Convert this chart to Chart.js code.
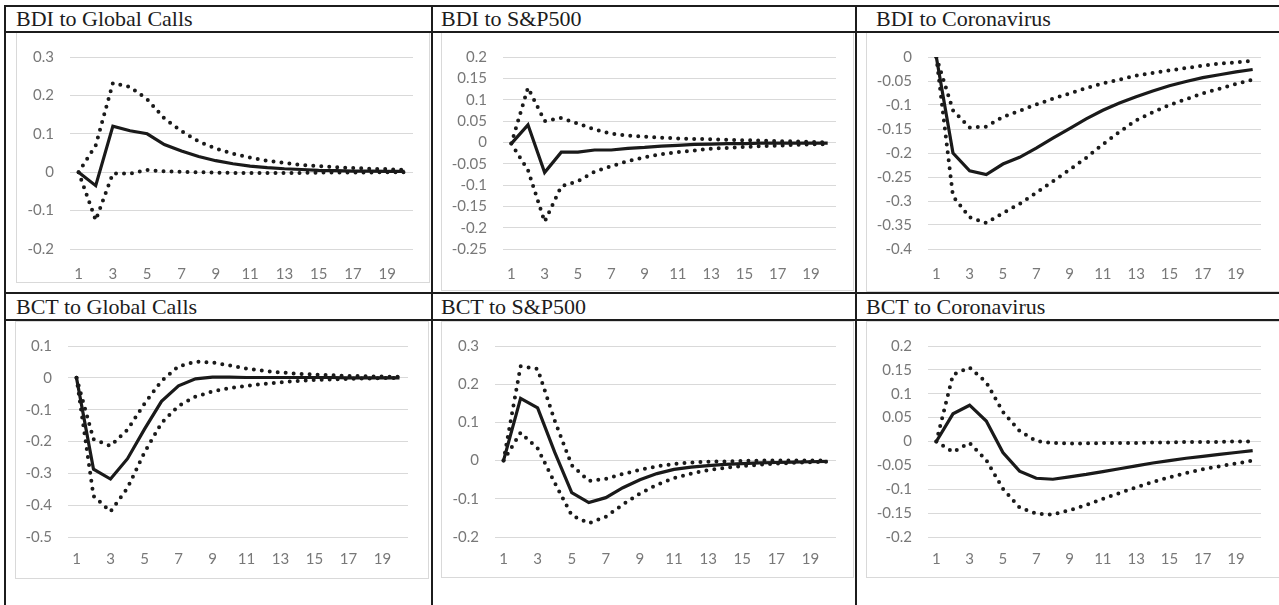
<!DOCTYPE html>
<html>
<head>
<meta charset="utf-8">
<script src="https://cdn.jsdelivr.net/npm/chart.js@4.4.1/dist/chart.umd.min.js"></script>
<style>
	body { margin: 0; width: 1279px; height: 605px; overflow: hidden; background: #fff; position: relative; }
	.rule { position: absolute; background: #1c1c1c; }
	.title { position: absolute; font: 22px 'Liberation Serif', 'Times New Roman', serif; color: #1c1c1c; white-space: nowrap; line-height: 1; }
	.box { position: absolute; border: 1px solid #d9d9d9; box-sizing: border-box; }
	canvas { position: absolute; }
</style>
</head>
<body>
<script>
// horizon 1..20
const periods = ['1', '2', '3', '4', '5', '6', '7', '8', '9', '10', '11', '12', '13', '14', '15', '16', '17', '18', '19', '20']

const titles = ['BDI to Global Calls', 'BDI to S&P500', 'BDI to Coronavirus', 'BCT to Global Calls', 'BCT to S&P500', 'BCT to Coronavirus']

// [min, max, step] of each value axis
const bdiGlobalRange = [-0.2, 0.3, 0.1]
const bdiSpRange = [-0.25, 0.2, 0.05]
const bdiCovRange = [-0.4, 0, 0.05]
const bctGlobalRange = [-0.5, 0.1, 0.1]
const bctSpRange = [-0.2, 0.3, 0.1]
const bctCovRange = [-0.2, 0.2, 0.05]

// responses (solid) with upper / lower bands (dotted)
const bdiGlobalIrf = [0, -0.035, 0.12, 0.108, 0.1, 0.072, 0.055, 0.041, 0.03, 0.022, 0.016, 0.012, 0.009, 0.007, 0.005, 0.004, 0.003, 0.003, 0.002, 0.002]
const bdiGlobalUpper = [0, 0.07, 0.232, 0.222, 0.19, 0.14, 0.107, 0.08, 0.062, 0.048, 0.038, 0.03, 0.024, 0.019, 0.016, 0.013, 0.011, 0.009, 0.008, 0.006]
const bdiGlobalLower = [0, -0.125, -0.003, -0.004, 0.006, 0.002, 0.001, 0, -0.001, -0.002, -0.002, -0.002, -0.002, -0.002, -0.001, -0.001, -0.001, -0.001, 0, 0]

const bdiSpIrf = [-0.003, 0.041, -0.071, -0.023, -0.023, -0.018, -0.018, -0.014, -0.012, -0.009, -0.007, -0.005, -0.004, -0.003, -0.003, -0.002, -0.002, -0.002, -0.002, -0.002]
const bdiSpUpper = [-0.003, 0.128, 0.05, 0.057, 0.044, 0.03, 0.02, 0.016, 0.013, 0.011, 0.009, 0.008, 0.007, 0.006, 0.005, 0.004, 0.003, 0.002, 0.001, 0]
const bdiSpLower = [-0.003, -0.065, -0.186, -0.103, -0.091, -0.069, -0.056, -0.044, -0.035, -0.028, -0.023, -0.019, -0.015, -0.013, -0.011, -0.009, -0.008, -0.006, -0.005, -0.004]

const bdiCovIrf = [0, -0.2, -0.237, -0.245, -0.223, -0.209, -0.19, -0.169, -0.149, -0.129, -0.111, -0.096, -0.083, -0.071, -0.06, -0.051, -0.043, -0.037, -0.031, -0.026]
const bdiCovUpper = [0, -0.111, -0.147, -0.145, -0.125, -0.112, -0.099, -0.087, -0.076, -0.065, -0.055, -0.047, -0.039, -0.033, -0.028, -0.023, -0.018, -0.014, -0.011, -0.008]
const bdiCovLower = [0, -0.29, -0.334, -0.346, -0.325, -0.306, -0.283, -0.259, -0.235, -0.21, -0.182, -0.156, -0.132, -0.115, -0.1, -0.088, -0.076, -0.066, -0.056, -0.047]

const bctGlobalIrf = [0, -0.287, -0.318, -0.254, -0.161, -0.074, -0.025, -0.003, 0.002, 0.002, 0.001, 0.001, 0.001, 0.001, 0.001, 0.001, 0, 0, 0, 0]
const bctGlobalUpper = [0, -0.193, -0.214, -0.163, -0.081, -0.01, 0.036, 0.051, 0.048, 0.039, 0.029, 0.022, 0.017, 0.013, 0.01, 0.008, 0.006, 0.005, 0.004, 0.003]
const bctGlobalLower = [0, -0.371, -0.42, -0.346, -0.234, -0.142, -0.088, -0.059, -0.043, -0.032, -0.025, -0.019, -0.014, -0.01, -0.007, -0.005, -0.003, -0.002, -0.001, 0]

const bctSpIrf = [0, 0.163, 0.138, 0.022, -0.084, -0.11, -0.097, -0.071, -0.05, -0.034, -0.023, -0.017, -0.013, -0.01, -0.008, -0.006, -0.005, -0.004, -0.003, -0.002]
const bctSpUpper = [0, 0.247, 0.24, 0.105, -0.012, -0.053, -0.048, -0.035, -0.024, -0.015, -0.009, -0.005, -0.003, -0.002, -0.001, 0, 0, 0, 0, 0]
const bctSpLower = [0, 0.073, 0.032, -0.058, -0.143, -0.164, -0.147, -0.115, -0.086, -0.063, -0.046, -0.034, -0.025, -0.019, -0.014, -0.011, -0.008, -0.006, -0.004, -0.003]

const bctCovIrf = [0, 0.058, 0.076, 0.043, -0.023, -0.062, -0.077, -0.079, -0.074, -0.069, -0.063, -0.057, -0.051, -0.045, -0.04, -0.035, -0.031, -0.027, -0.023, -0.019]
const bctCovUpper = [0, 0.14, 0.155, 0.124, 0.062, 0.022, 0.001, -0.003, -0.004, -0.004, -0.003, -0.003, -0.003, -0.002, -0.002, -0.001, -0.001, -0.001, 0, 0]
const bctCovLower = [0, -0.022, -0.003, -0.039, -0.099, -0.138, -0.151, -0.153, -0.144, -0.133, -0.12, -0.108, -0.096, -0.085, -0.075, -0.066, -0.058, -0.052, -0.046, -0.04]

// page layout: table cells, chart boxes and plot paddings (px)
const panels = [
	{ irf: bdiGlobalIrf, up: bdiGlobalUpper, lo: bdiGlobalLower, range: bdiGlobalRange, tx: 16, ty: 8, x: 16, y: 32, w: 414, h: 251, left: 54, top: 21, right: 17, bottom: 34, xpad: 9 },
	{ irf: bdiSpIrf, up: bdiSpUpper, lo: bdiSpLower, range: bdiSpRange, tx: 441, ty: 8, x: 441, y: 32, w: 413, h: 259, left: 62, top: 21, right: 18, bottom: 42, xpad: 9 },
	{ irf: bdiCovIrf, up: bdiCovUpper, lo: bdiCovLower, range: bdiCovRange, tx: 876, ty: 8, x: 866, y: 32, w: 413, h: 260, left: 62, top: 21, right: 18, bottom: 43, xpad: 9 },
	{ irf: bctGlobalIrf, up: bctGlobalUpper, lo: bctGlobalLower, range: bctGlobalRange, tx: 16, ty: 296, x: 15, y: 321, w: 414, h: 258, left: 53, top: 20, right: 21, bottom: 42, xpad: 6 },
	{ irf: bctSpIrf, up: bctSpUpper, lo: bctSpLower, range: bctSpRange, tx: 441, ty: 296, x: 441, y: 321, w: 413, h: 257, left: 54, top: 20, right: 18, bottom: 41, xpad: 6 },
	{ irf: bctCovIrf, up: bctCovUpper, lo: bctCovLower, range: bctCovRange, tx: 866, ty: 296, x: 866, y: 321, w: 413, h: 257, left: 62, top: 20, right: 18, bottom: 41, xpad: 6 }
]

// table rules [x, y, w, h]
const rules = [
	[5, 5, 1274, 2], [5, 31, 1274, 2], [5, 292, 1274, 2], [5, 319, 1274, 2],
	[4, 5, 2, 600], [431, 5, 2, 600], [855, 5, 2, 600]
]

function addDiv(cls, x, y, w, h) {
	let d = document.createElement('div')
	d.className = cls
	d.style.left = x + 'px'
	d.style.top = y + 'px'
	if (w) d.style.width = w + 'px'
	if (h) d.style.height = h + 'px'
	document.body.appendChild(d)
	return d
}

const tickFont = { family: "Lato, 'Open Sans', sans-serif", size: 15 }
const tickColor = '#787878'

function dotted(values) {
	return {
		data: values,
		borderColor: '#1a1a1a',
		borderWidth: 4,
		borderDash: [0, 8],
		borderCapStyle: 'round',
		pointRadius: 0,
		tension: 0,
		fill: false
	}
}

function drawPanel(p, i) {
	addDiv('box', p.x, p.y, i % 3 == 2 ? 430 : p.w, p.h)
	addDiv('title', p.tx, p.ty).textContent = titles[i]

	let canvas = document.createElement('canvas')
	canvas.width = p.w
	canvas.height = p.h
	canvas.style.left = p.x + 'px'
	canvas.style.top = p.y + 'px'
	document.body.appendChild(canvas)

	new Chart(canvas, {
		type: 'line',
		data: {
			labels: periods,
			datasets: [
				{ data: p.irf, borderColor: '#1a1a1a', borderWidth: 3.2, pointRadius: 0, tension: 0, fill: false },
				dotted(p.up),
				dotted(p.lo)
			]
		},
		options: {
			responsive: false,
			animation: false,
			layout: { padding: { left: 0, top: p.top, right: p.right, bottom: 0 } },
			plugins: { legend: { display: false }, tooltip: { enabled: false } },
			scales: {
				x: {
					offset: true,
					grid: { display: false },
					border: { display: false },
					ticks: {
						autoSkip: false,
						maxRotation: 0,
						padding: p.xpad - 1,
						color: tickColor,
						font: tickFont,
						callback: function(v, idx) {
							return idx % 2 == 0 ? this.getLabelForValue(v) : ''
						}
					},
					afterFit: function(scale) { scale.height = p.bottom }
				},
				y: {
					min: p.range[0],
					max: p.range[1],
					grid: { color: '#d9d9d9', lineWidth: 1, drawTicks: false },
					border: { display: false },
					ticks: {
						stepSize: p.range[2],
						padding: 16,
						color: tickColor,
						font: tickFont,
						callback: function(v) {
							let r = Math.round(v * 100) / 100
							return r == 0 ? '0' : String(r)
						}
					},
					afterFit: function(scale) { scale.width = p.left }
				}
			}
		}
	})
}

panels.forEach(drawPanel)
rules.forEach(r => addDiv('rule', r[0], r[1], r[2], r[3]))
</script>
</body>
</html>
